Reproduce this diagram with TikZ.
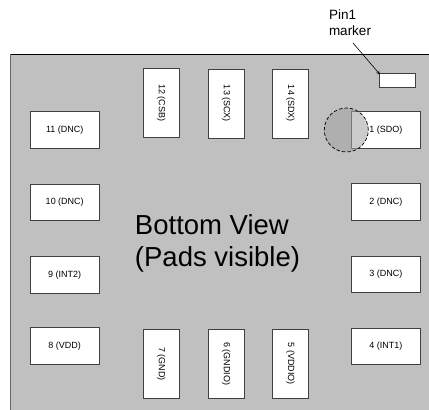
\documentclass[tikz,border=0pt]{standalone}
\usepackage{fontspec}
\setmainfont{Liberation Sans}
\definecolor{pkggray}{HTML}{C0C0C0}
\tikzset{
	padbox/.style={draw=black!75, fill=white, line width=0.8pt, inner sep=0pt, minimum width=68.5pt, minimum height=36.5pt, font=\fontsize{9}{11}\selectfont},
	padtall/.style={padbox, minimum width=69pt, minimum height=36pt, rotate=-90},
}
\begin{document}
\begin{tikzpicture}[x=1pt, y=-1pt]
	    \useasboundingbox (0,0) rectangle (429,410);
	    % package outline
	    \fill[pkggray] (10.5,54) rectangle (429,410);
	    \draw[black!60, line width=1.2pt] (10.5,410) -- (10.5,54);
	    \draw[black, line width=0.8pt] (10.5,54) -- (429,54);
	    \node[align=left, inner sep=0pt, font=\fontsize{27.5}{32}\selectfont] (title) at (217.5,243.5) {Bottom View\\(Pads visible)};
	    % left row
	    \node[padbox] (p11) at (64.75,130) {11 (DNC)};
	    \node[padbox] (p10) at (64.75,202.5) {10 (DNC)};
	    \node[padbox] (p9) at (64.75,275) {9 (INT2)};
	    \node[padbox] (p8) at (64.75,346) {8 (VDD)};
	    % top row
	    \node[padtall] (p12) at (161.2,103) {12 (CSB)};
	    \node[padtall] (p13) at (226.2,103.5) {13 (SCX)};
	    \node[padtall] (p14) at (290.5,103.5) {14 (SDX)};
	    % bottom row
	    \node[padtall] (p7) at (161.2,363.8) {7 (GND)};
	    \node[padtall] (p6) at (226.2,363.8) {6 (GNDIO)};
	    \node[padtall] (p5) at (290.5,363.8) {5 (VDDIO)};
	    % right row
	    \node[padbox] (p1) at (385.9,130) {1 (SDO)};
	    \node[padbox] (p2) at (385.9,202) {2 (DNC)};
	    \node[padbox] (p3) at (385.9,274.5) {3 (DNC)};
	    \node[padbox] (p4) at (385.9,346.5) {4 (INT1)};
	    % marker and zoom circle
	    \node[draw=black!75, fill=white, line width=0.8pt, inner sep=0pt, minimum width=36pt, minimum height=14.5pt] (marker) at (397,80.5) {};
	    \node[circle, draw=black, dash pattern=on 3.5pt off 2pt, line width=0.7pt, fill=black!36, fill opacity=0.56, draw opacity=1, inner sep=0pt, minimum size=44pt] (lens) at (346.3,130) {};
	    \node[align=left, inner sep=0pt, font=\fontsize{13.5}{16}\selectfont] (pinlabel) at (350,22.5) {Pin1\\marker};
	    \coordinate (tail) at (353,43);
	    \draw[->, >=stealth, line width=0.6pt, shorten >=-2pt] (tail) -- (marker.north west);
\end{tikzpicture}
\end{document}
